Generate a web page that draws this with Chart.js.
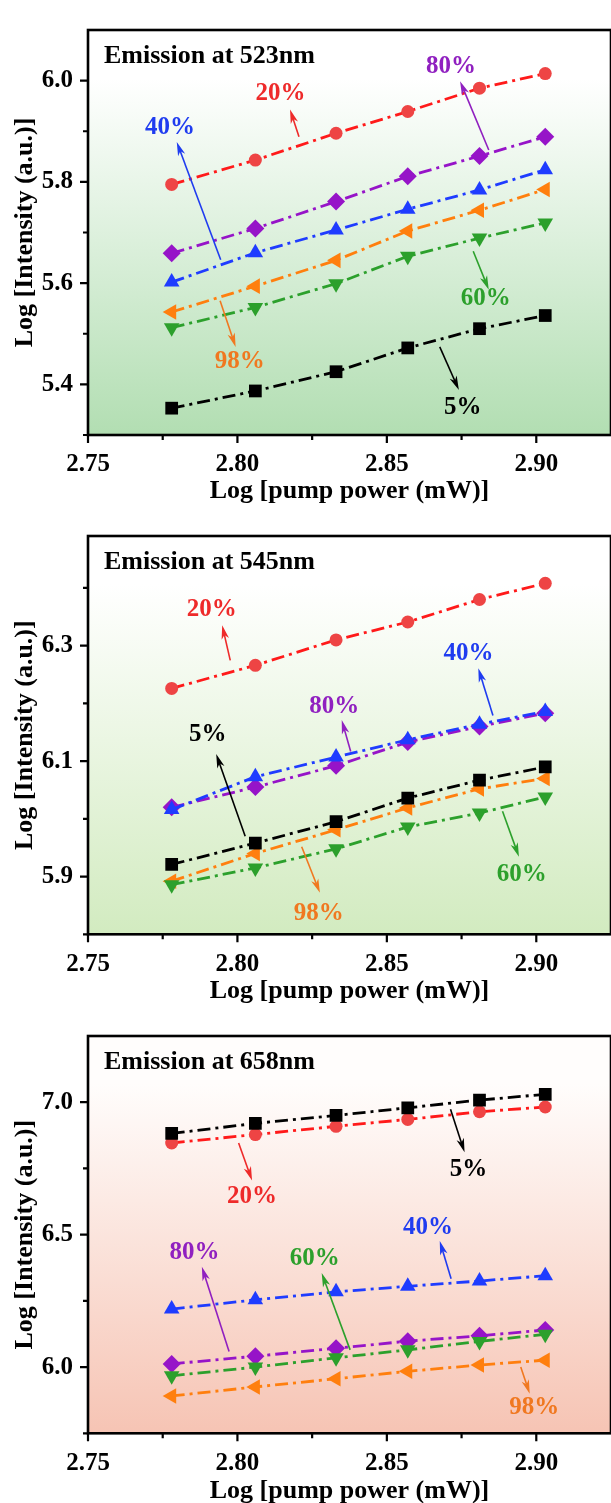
<!DOCTYPE html>
<html>
<head>
<meta charset="utf-8">
<script src="https://cdn.jsdelivr.net/npm/chart.js@4.4.1/dist/chart.umd.min.js"></script>
<style>
  html, body { margin: 0; padding: 0; background: #fff; }
  #wrap { width: 611px; overflow: hidden; }
  canvas { display: block; }
</style>
</head>
<body>
<div id="wrap">
  <canvas id="c523" width="620" height="506"></canvas>
  <canvas id="c545" width="620" height="500"></canvas>
  <canvas id="c658" width="620" height="497"></canvas>
</div>
<script>
// log10 of pump power (600 ... 800 mW)
const logPower = [2.778, 2.806, 2.833, 2.857, 2.881, 2.903];
const concentrations = ['5%', '20%', '40%', '60%', '80%', '98%'];

// Emission at 523 nm
const em523_5  = [5.353, 5.387, 5.425, 5.472, 5.510, 5.536];
const em523_20 = [5.795, 5.843, 5.896, 5.939, 5.985, 6.014];
const em523_40 = [5.602, 5.660, 5.705, 5.746, 5.784, 5.824];
const em523_60 = [5.512, 5.552, 5.599, 5.653, 5.689, 5.719];
const em523_80 = [5.659, 5.708, 5.761, 5.811, 5.851, 5.889];
const em523_98 = [5.543, 5.594, 5.645, 5.703, 5.744, 5.785];

// Emission at 545 nm
const em545_5  = [5.921, 5.958, 5.995, 6.036, 6.067, 6.090];
const em545_20 = [6.226, 6.266, 6.310, 6.341, 6.380, 6.408];
const em545_40 = [6.016, 6.073, 6.107, 6.137, 6.164, 6.186];
const em545_60 = [5.886, 5.915, 5.948, 5.986, 6.010, 6.038];
const em545_80 = [6.020, 6.055, 6.092, 6.133, 6.160, 6.183];
const em545_98 = [5.892, 5.940, 5.981, 6.019, 6.052, 6.070];

// Emission at 658 nm
const em658_5  = [6.882, 6.920, 6.950, 6.979, 7.008, 7.030];
const em658_20 = [6.846, 6.878, 6.909, 6.935, 6.964, 6.982];
const em658_40 = [6.219, 6.254, 6.284, 6.305, 6.325, 6.345];
const em658_60 = [5.967, 6.000, 6.035, 6.065, 6.097, 6.124];
const em658_80 = [6.012, 6.041, 6.071, 6.098, 6.118, 6.140];
const em658_98 = [5.891, 5.925, 5.956, 5.984, 6.008, 6.026];

// tick labels
const xMajor = [2.75, 2.80, 2.85, 2.90];
const xMinor = [2.775, 2.825, 2.875];
const yMajor523 = [5.4, 5.6, 5.8, 6.0];
const yMinor523 = [5.3, 5.5, 5.7, 5.9];
const yMajor545 = [5.9, 6.1, 6.3];
const yMinor545 = [5.8, 6.0, 6.2, 6.4];
const yMajor658 = [6.0, 6.5, 7.0];
const yMinor658 = [5.75, 6.25, 6.75];

const FONT = '"Liberation Serif", "Times New Roman", serif';

const styles = {
  '5%':  { line: '#000000', fill: '#000000', text: '#000000', shape: 'rect', radius: 9, rotation: 0 },
  '20%': { line: '#ff1a1a', fill: '#ee4444', text: '#ee2a2a', shape: 'circle', radius: 6.5, rotation: 0 },
  '40%': { line: '#1f3cff', fill: '#1f3cff', text: '#1f3cf0', shape: 'triangle', radius: 9, rotation: 0 },
  '60%': { line: '#2ca02c', fill: '#2ca02c', text: '#2ca02c', shape: 'triangle', radius: 9, rotation: 180 },
  '80%': { line: '#9614c8', fill: '#9614c8', text: '#9020c0', shape: 'rectRot', radius: 9, rotation: 0 },
  '98%': { line: '#ff7f0e', fill: '#ff7f0e', text: '#f07820', shape: 'triangle', radius: 9, rotation: -90 }
};

function makeDatasets(seriesList) {
  return seriesList.map((vals, i) => {
    const s = styles[concentrations[i]];
    return {
      label: concentrations[i],
      data: logPower.map((x, j) => ({ x: x, y: vals[j] })),
      showLine: true,
      borderColor: s.line,
      borderWidth: 2.8,
      borderDash: [13, 5, 3, 5],
      pointStyle: s.shape,
      pointRotation: s.rotation,
      pointRadius: s.radius,
      pointBackgroundColor: s.fill,
      pointBorderColor: s.fill,
      pointBorderWidth: 0
    };
  });
}

function arrow(ctx, x1, y1, x2, y2, color) {
  const ang = Math.atan2(y2 - y1, x2 - x1);
  const len = 14, half = 3.8;
  ctx.save();
  ctx.strokeStyle = color;
  ctx.fillStyle = color;
  ctx.lineWidth = 1.6;
  ctx.beginPath();
  ctx.moveTo(x1, y1);
  ctx.lineTo(x2 - Math.cos(ang) * 6, y2 - Math.sin(ang) * 6);
  ctx.stroke();
  ctx.translate(x2, y2);
  ctx.rotate(ang);
  ctx.beginPath();
  ctx.moveTo(0, 0);
  ctx.lineTo(-len, -half);
  ctx.lineTo(-len * 0.72, 0);
  ctx.lineTo(-len, half);
  ctx.closePath();
  ctx.fill();
  ctx.restore();
}

const panelDecor = {
  id: 'panelDecor',
  beforeDatasetsDraw(chart, args, opts) {
    const { ctx, chartArea: a } = chart;
    const g = ctx.createLinearGradient(0, a.top, 0, a.bottom);
    g.addColorStop(0, opts.topColor);
    g.addColorStop(0.12, opts.topColor);
    g.addColorStop(1, opts.bottomColor);
    ctx.save();
    ctx.fillStyle = g;
    ctx.fillRect(a.left, a.top, a.right - a.left, a.bottom - a.top);
    ctx.restore();
  },
  afterDatasetsDraw(chart, args, opts) {
    const { ctx, chartArea: a, scales: { x, y } } = chart;
    ctx.save();
    // notes with arrows
    opts.notes.forEach(n => {
      const c = styles[n.key].text;
      arrow(ctx, x.getPixelForValue(n.from[0]), y.getPixelForValue(n.from[1]),
        x.getPixelForValue(n.to[0]), y.getPixelForValue(n.to[1]), c);
      ctx.fillStyle = c;
      ctx.font = 'bold 25px ' + FONT;
      ctx.textAlign = 'center';
      ctx.textBaseline = 'middle';
      ctx.fillText(n.key, x.getPixelForValue(n.at[0]), y.getPixelForValue(n.at[1]));
    });
    // panel title
    ctx.fillStyle = '#000';
    ctx.font = 'bold 26px ' + FONT;
    ctx.textAlign = 'left';
    ctx.textBaseline = 'alphabetic';
    ctx.fillText(opts.title, a.left + 16, a.top + 33);
    // frame
    ctx.strokeStyle = '#000';
    ctx.lineWidth = 2.6;
    ctx.strokeRect(a.left, a.top, a.right - a.left, a.bottom - a.top);
    // tick marks, pointing out
    ctx.lineWidth = 2.2;
    ctx.beginPath();
    xMajor.concat(xMinor).forEach(v => {
      const px = x.getPixelForValue(v);
      const l = xMajor.includes(v) ? 8 : 5;
      ctx.moveTo(px, a.bottom);
      ctx.lineTo(px, a.bottom + l);
    });
    opts.yMajor.concat(opts.yMinor).forEach(v => {
      const py = y.getPixelForValue(v);
      const l = opts.yMajor.includes(v) ? 8 : 5;
      ctx.moveTo(a.left, py);
      ctx.lineTo(a.left - l, py);
    });
    ctx.stroke();
    ctx.restore();
  }
};

function makePanel(id, cfg) {
  const canvas = document.getElementById(id);
  const H = canvas.height;
  return new Chart(canvas, {
    type: 'scatter',
    data: { datasets: makeDatasets(cfg.series) },
    plugins: [panelDecor],
    options: {
      responsive: false,
      animation: false,
      events: [],
      layout: { padding: { top: cfg.plotTop, right: 5, left: 0, bottom: 0 } },
      plugins: {
        legend: { display: false },
        tooltip: { enabled: false },
        panelDecor: {
          title: cfg.title, notes: cfg.notes,
          topColor: cfg.topColor, bottomColor: cfg.bottomColor,
          yMajor: cfg.yMajor, yMinor: cfg.yMinor
        }
      },
      scales: {
        x: {
          type: 'linear', min: 2.75, max: 2.925,
          afterBuildTicks: s => { s.ticks = xMajor.map(v => ({ value: v })); },
          afterFit: s => { s.height = H - cfg.plotBottom; },
          grid: { display: true, drawOnChartArea: false, drawTicks: false, color: 'rgba(0,0,0,0)' },
          border: { display: false },
          ticks: {
            padding: 15, color: '#000', maxRotation: 0, autoSkip: false,
            font: { family: FONT, size: 25, weight: 'bold' },
            callback: v => v.toFixed(2)
          },
          title: {
            display: true, text: 'Log [pump power (mW)]', color: '#000',
            font: { family: FONT, size: 26, weight: 'bold', lineHeight: 1 },
            padding: { top: 0, bottom: cfg.xTitleOffset - 13 }
          }
        },
        y: {
          type: 'linear', min: cfg.yMin, max: cfg.yMax,
          afterBuildTicks: s => { s.ticks = cfg.yMajor.map(v => ({ value: v })); },
          afterFit: s => { s.width = 88; },
          grid: { display: true, drawOnChartArea: false, drawTicks: false, color: 'rgba(0,0,0,0)' },
          border: { display: false },
          ticks: {
            padding: 15, color: '#000', autoSkip: false,
            font: { family: FONT, size: 25, weight: 'bold' },
            callback: v => v.toFixed(1)
          },
          title: {
            display: true, text: 'Log [Intensity (a.u.)]', color: '#000',
            font: { family: FONT, size: 26, weight: 'bold', lineHeight: 1 },
            padding: { top: 12, bottom: 0 }
          }
        }
      }
    }
  });
}

makePanel('c523', {
  title: 'Emission at 523nm',
  series: [em523_5, em523_20, em523_40, em523_60, em523_80, em523_98],
  yMin: 5.3, yMax: 6.1, yMajor: yMajor523, yMinor: yMinor523,
  plotTop: 11.7, plotBottom: 435, xTitleOffset: 14.5,
  topColor: '#ffffff', bottomColor: '#b2deb2',
  notes: [
    { key: '20%', at: [2.8144, 5.975], from: [2.8206, 5.889], to: [2.8176, 5.943] },
    { key: '40%', at: [2.7774, 5.908], from: [2.7944, 5.646], to: [2.7797, 5.879] },
    { key: '80%', at: [2.8715, 6.028], from: [2.8841, 5.863], to: [2.8745, 5.999] },
    { key: '60%', at: [2.8831, 5.570], from: [2.8789, 5.663], to: [2.8841, 5.587] },
    { key: '98%', at: [2.8008, 5.445], from: [2.7942, 5.565], to: [2.7994, 5.474] },
    { key: '5%',  at: [2.8754, 5.355], from: [2.8677, 5.474], to: [2.8741, 5.389] }
  ]
});

makePanel('c545', {
  title: 'Emission at 545nm',
  series: [em545_5, em545_20, em545_40, em545_60, em545_80, em545_98],
  yMin: 5.8, yMax: 6.49, yMajor: yMajor545, yMinor: yMinor545,
  plotTop: 5, plotBottom: 428.3, xTitleOffset: 14.5,
  topColor: '#ffffff', bottomColor: '#d2ebc0',
  notes: [
    { key: '20%', at: [2.7914, 6.363], from: [2.7976, 6.2745], to: [2.7949, 6.3354] },
    { key: '40%', at: [2.8773, 6.2864], from: [2.8855, 6.1792], to: [2.8806, 6.2608] },
    { key: '80%', at: [2.8324, 6.1939], from: [2.8379, 6.1167], to: [2.8349, 6.1711] },
    { key: '5%',  at: [2.7901, 6.1465], from: [2.8026, 5.9697], to: [2.7929, 6.1122] },
    { key: '60%', at: [2.8951, 5.9028], from: [2.8887, 6.0133], to: [2.8942, 5.9343] },
    { key: '98%', at: [2.8272, 5.8363], from: [2.8215, 5.9518], to: [2.8276, 5.8718] }
  ]
});

makePanel('c658', {
  title: 'Emission at 658nm',
  series: [em658_5, em658_20, em658_40, em658_60, em658_80, em658_98],
  yMin: 5.75, yMax: 7.25, yMajor: yMajor658, yMinor: yMinor658,
  plotTop: 5, plotBottom: 427.3, xTitleOffset: 11.5,
  topColor: '#fffdfc', bottomColor: '#f6c4b4',
  notes: [
    { key: '5%',  at: [2.8773, 6.7457], from: [2.8713, 6.973], to: [2.8760, 6.8107] },
    { key: '20%', at: [2.8049, 6.6449], from: [2.8004, 6.8462], to: [2.8049, 6.7042] },
    { key: '40%', at: [2.8638, 6.5266], from: [2.8715, 6.3338], to: [2.8677, 6.4759] },
    { key: '80%', at: [2.7856, 6.4318], from: [2.7972, 6.0589], to: [2.7881, 6.3786] },
    { key: '60%', at: [2.8259, 6.4084], from: [2.8377, 6.0650], to: [2.8282, 6.3551] },
    { key: '98%', at: [2.8993, 5.8484], from: [2.8948, 6.0000], to: [2.8978, 5.8991] }
  ]
});
</script>
</body>
</html>
